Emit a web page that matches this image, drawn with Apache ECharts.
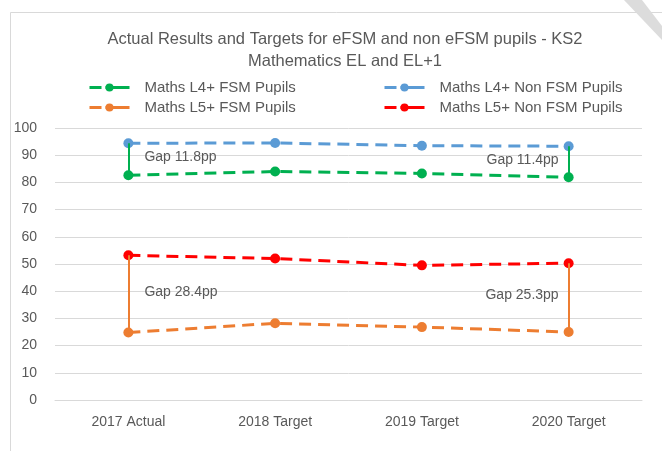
<!DOCTYPE html>
<html>
<head>
<meta charset="utf-8">
<script src="https://cdn.jsdelivr.net/npm/echarts@6/dist/echarts.min.js"></script>
<style>
  html, body { margin: 0; padding: 0; background: #fff; }
  #chart { width: 662px; height: 451px; }
</style>
</head>
<body>
<div id="chart"></div>
<script>
const categories = ['2017 Actual', '2018 Target', '2019 Target', '2020 Target']
const l4Fsm = [82.6, 84.0, 83.3, 81.9]
const l4NonFsm = [94.4, 94.5, 93.5, 93.3]
const l5Fsm = [24.8, 28.2, 26.8, 25.0]
const l5NonFsm = [53.2, 52.0, 49.5, 50.3]
const yTicks = [0, 10, 20, 30, 40, 50, 60, 70, 80, 90, 100]

const font = 'Liberation Sans'
const textColor = '#595959'
const dash = [12, 7]

// vertical gap bars at first and last category
function gapLine(top, bottom, idx) {
  return [
    { coord: [categories[idx], top[idx]] },
    { coord: [categories[idx], bottom[idx]] }
  ]
}

function gapLabel(top, bottom, idx, align, dx) {
  const gap = (top[idx] - bottom[idx]).toFixed(1)
  return {
    coord: [categories[idx], (top[idx] + bottom[idx]) / 2],
    value: gap,
    label: { align: align, offset: [dx, -2] }
  }
}

function lineSeries(name, data, color, gaps) {
  const s = {
    name: name,
    type: 'line',
    data: data,
    symbol: 'circle',
    symbolSize: 10,
    itemStyle: { color: color },
    lineStyle: { color: color, width: 3, type: dash },
    z: 3
  }
  if (gaps) {
    s.markLine = {
      silent: true,
      symbol: 'none',
      label: { show: false },
      lineStyle: { color: color, width: 2, type: 'solid' },
      data: [gapLine(gaps[0], data, 0), gapLine(gaps[0], data, 3)]
    }
    s.markPoint = {
      silent: true,
      symbol: 'circle',
      symbolSize: 0,
      label: {
        show: true,
        position: 'inside',
        color: textColor,
        fontFamily: font,
        fontSize: 14,
        verticalAlign: 'middle',
        formatter: p => 'Gap ' + p.value + 'pp'
      },
      data: [gapLabel(gaps[0], data, 0, 'left', 16), gapLabel(gaps[0], data, 3, 'right', -10)]
    }
  }
  return s
}

const chart = echarts.init(document.getElementById('chart'))

const legendBase = {
  orient: 'vertical',
  top: 75,
  itemWidth: 40,
  itemHeight: 10,
  itemGap: 5,
  lineStyle: { type: [12, 4, 30, 1], width: 3 },
  textStyle: { color: textColor, fontFamily: font, fontSize: 15, padding: [0, 0, 0, 10] }
}

const option = {
  animation: false,
  backgroundColor: '#fff',
  title: {
    text: 'Actual Results and Targets for eFSM and non eFSM pupils - KS2\nMathematics EL and EL+1',
    left: 340,
    top: 23,
    textAlign: 'center',
    textStyle: {
      color: textColor,
      fontFamily: font,
      fontSize: 16.5,
      fontWeight: 'normal',
      lineHeight: 22
    }
  },
  legend: [
    Object.assign({}, legendBase, { left: 83, data: ['Maths L4+ FSM Pupils', 'Maths L5+ FSM Pupils'] }),
    Object.assign({}, legendBase, { left: 378, data: ['Maths L4+ Non FSM Pupils', 'Maths L5+ Non FSM Pupils'] })
  ],
  grid: { left: 55, right: 20, top: 128, bottom: 51 },
  xAxis: {
    type: 'category',
    data: categories,
    boundaryGap: true,
    axisLine: { lineStyle: { color: '#d9d9d9' } },
    axisTick: { show: false },
    axisLabel: { color: textColor, fontFamily: font, fontSize: 14, margin: 15 }
  },
  yAxis: {
    type: 'value',
    min: yTicks[0],
    max: yTicks[yTicks.length - 1],
    interval: yTicks[1] - yTicks[0],
    axisLine: { show: false },
    axisTick: { show: false },
    splitLine: { lineStyle: { color: '#d9d9d9' } },
    axisLabel: { color: textColor, fontFamily: font, fontSize: 14, margin: 18 }
  },
  series: [
    lineSeries('Maths L4+ FSM Pupils', l4Fsm, '#00B050', [l4NonFsm]),
    lineSeries('Maths L4+ Non FSM Pupils', l4NonFsm, '#5B9BD5'),
    lineSeries('Maths L5+ FSM Pupils', l5Fsm, '#ED7D31', [l5NonFsm]),
    lineSeries('Maths L5+ Non FSM Pupils', l5NonFsm, '#FF0000')
  ],
  graphic: [
    {
      type: 'rect',
      shape: { x: 10.5, y: 12.5, width: 700, height: 460 },
      style: { fill: 'none', stroke: '#d9d9d9', lineWidth: 1 },
      silent: true
    },
    {
      type: 'polygon',
      shape: { points: [[624, 0], [642, 0], [662, 26], [662, 40]] },
      style: { fill: '#dcdcdc' },
      silent: true
    }
  ]
}

chart.setOption(option)
</script>
</body>
</html>
